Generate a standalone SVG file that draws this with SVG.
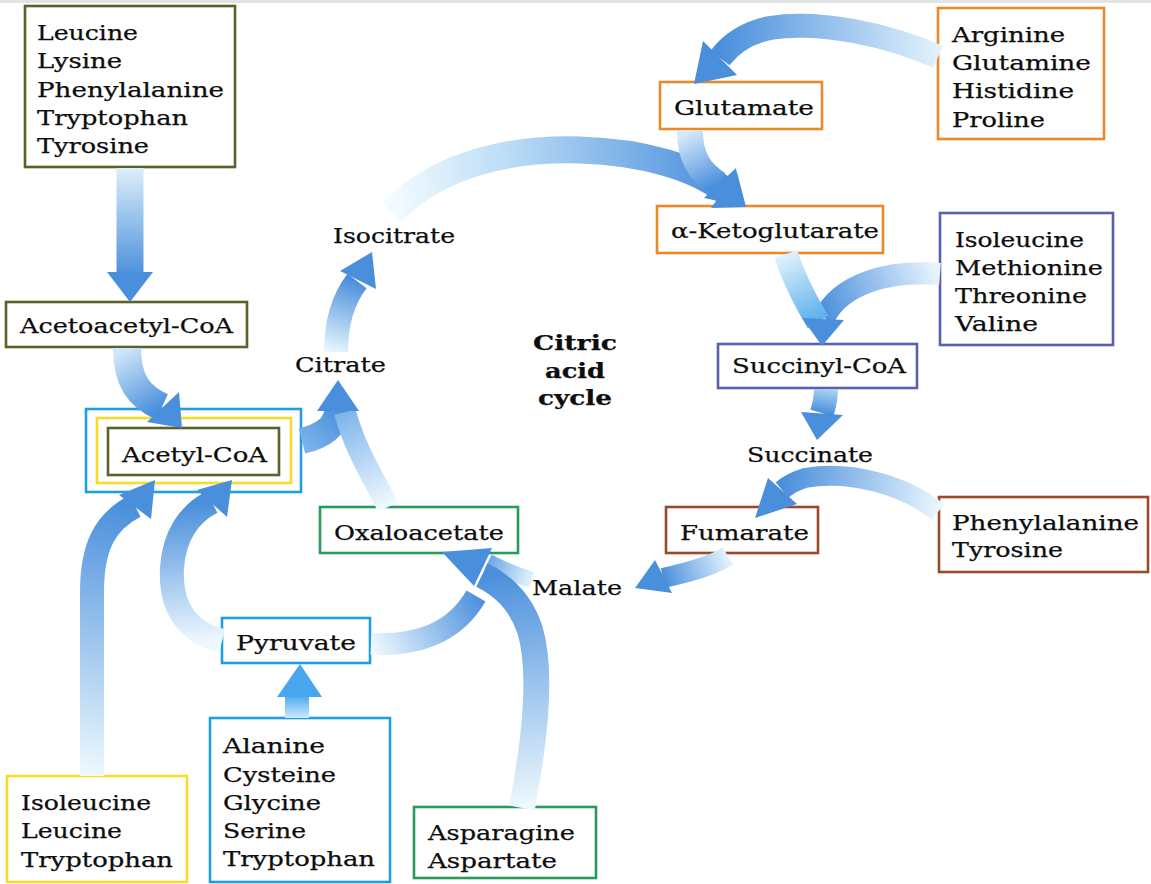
<svg xmlns="http://www.w3.org/2000/svg" width="1151" height="884" viewBox="0 0 1151 884">
<style>
.box{fill:#fff;stroke-width:2.6}
.olive{stroke:#5b6128}.orange{stroke:#e8892a}.purple{stroke:#5a5fae}.brown{stroke:#9a4a2a}.green{stroke:#2a9a5a}.blue{stroke:#1f9fe2}.yellow{stroke:#f5dc28}
text{font-family:"DejaVu Serif","Liberation Serif",serif;font-size:21px;fill:#0d0d0d;stroke:#0d0d0d;stroke-width:0.25}
.b{font-weight:bold;font-size:20px}
.s{fill:none;stroke-linecap:butt}
.h{fill:#4a8fdc}
.hc{fill:#47a6ee}
</style>
<defs>
<linearGradient id="g1" gradientUnits="userSpaceOnUse" x1="130" y1="168" x2="130" y2="276"><stop offset="0" stop-color="#dceffb"/><stop offset="1" stop-color="#4a8fdc"/></linearGradient>
<linearGradient id="g2" gradientUnits="userSpaceOnUse" x1="127" y1="348" x2="163" y2="407"><stop offset="0" stop-color="#cfe7fa"/><stop offset="1" stop-color="#4a8fdc"/></linearGradient>
<linearGradient id="g3" gradientUnits="userSpaceOnUse" x1="302" y1="441" x2="338" y2="408"><stop offset="0" stop-color="#7ab3ea"/><stop offset="1" stop-color="#4a8fdc"/></linearGradient>
<linearGradient id="g4" gradientUnits="userSpaceOnUse" x1="388" y1="507" x2="345" y2="412"><stop offset="0" stop-color="#f0faff"/><stop offset="1" stop-color="#7fb5ea"/></linearGradient>
<linearGradient id="g5" gradientUnits="userSpaceOnUse" x1="336" y1="352" x2="357" y2="281"><stop offset="0" stop-color="#e6f5fd"/><stop offset="1" stop-color="#4a8fdc"/></linearGradient>
<linearGradient id="g6" gradientUnits="userSpaceOnUse" x1="395" y1="205" x2="724" y2="190"><stop offset="0" stop-color="#f2fbff"/><stop offset="0.35" stop-color="#bcdcf6"/><stop offset="1" stop-color="#4a8fdc"/></linearGradient>
<linearGradient id="g7" gradientUnits="userSpaceOnUse" x1="690" y1="131" x2="718" y2="184"><stop offset="0" stop-color="#d6eafa"/><stop offset="1" stop-color="#4a8fdc"/></linearGradient>
<linearGradient id="g8" gradientUnits="userSpaceOnUse" x1="938" y1="57" x2="720" y2="58"><stop offset="0" stop-color="#e2f1fc"/><stop offset="1" stop-color="#4a8fdc"/></linearGradient>
<linearGradient id="g9" gradientUnits="userSpaceOnUse" x1="940" y1="274" x2="824" y2="318"><stop offset="0" stop-color="#eaf6fe"/><stop offset="1" stop-color="#4a8fdc"/></linearGradient>
<linearGradient id="g10" gradientUnits="userSpaceOnUse" x1="786" y1="254" x2="818" y2="322"><stop offset="0" stop-color="#e0f2fd"/><stop offset="1" stop-color="#58aeec"/></linearGradient>
<linearGradient id="g11" gradientUnits="userSpaceOnUse" x1="826" y1="389" x2="822" y2="413"><stop offset="0" stop-color="#a9d2f3"/><stop offset="1" stop-color="#4a8fdc"/></linearGradient>
<linearGradient id="g12" gradientUnits="userSpaceOnUse" x1="938" y1="512" x2="782" y2="490"><stop offset="0" stop-color="#eaf6fe"/><stop offset="1" stop-color="#4a8fdc"/></linearGradient>
<linearGradient id="g13" gradientUnits="userSpaceOnUse" x1="728" y1="556" x2="663" y2="578"><stop offset="0" stop-color="#e4f3fd"/><stop offset="1" stop-color="#4a8fdc"/></linearGradient>
<linearGradient id="g14" gradientUnits="userSpaceOnUse" x1="532" y1="580" x2="488" y2="562"><stop offset="0" stop-color="#e4f3fd"/><stop offset="1" stop-color="#6aa7e4"/></linearGradient>
<linearGradient id="g15" gradientUnits="userSpaceOnUse" x1="522" y1="808" x2="482" y2="575"><stop offset="0" stop-color="#eef9fe"/><stop offset="1" stop-color="#4a8fdc"/></linearGradient>
<linearGradient id="g16" gradientUnits="userSpaceOnUse" x1="371" y1="644" x2="478" y2="590"><stop offset="0" stop-color="#eef9fe"/><stop offset="1" stop-color="#4a8fdc"/></linearGradient>
<linearGradient id="g17" gradientUnits="userSpaceOnUse" x1="92" y1="776" x2="135" y2="506"><stop offset="0" stop-color="#eef9fe"/><stop offset="1" stop-color="#4a8fdc"/></linearGradient>
<linearGradient id="g18" gradientUnits="userSpaceOnUse" x1="222" y1="641" x2="212" y2="502"><stop offset="0" stop-color="#eef9fe"/><stop offset="1" stop-color="#4a8fdc"/></linearGradient>
<linearGradient id="g19" gradientUnits="userSpaceOnUse" x1="297" y1="718" x2="297" y2="696"><stop offset="0" stop-color="#cde9fb"/><stop offset="1" stop-color="#4aaaf0"/></linearGradient>
</defs>
<rect x="0" y="0" width="1151" height="884" fill="#fff"/>
<rect x="0" y="0" width="1151" height="3" fill="#e4e4e4"/>

<g id="node-leucine-group"><rect class="box olive" x="25" y="6" width="210" height="161"/>
<text x="37" y="40" textLength="101" lengthAdjust="spacingAndGlyphs">Leucine</text>
<text x="37" y="68" textLength="85" lengthAdjust="spacingAndGlyphs">Lysine</text>
<text x="37" y="97" textLength="187" lengthAdjust="spacingAndGlyphs">Phenylalanine</text>
<text x="37" y="125" textLength="151" lengthAdjust="spacingAndGlyphs">Tryptophan</text>
<text x="37" y="153" textLength="112" lengthAdjust="spacingAndGlyphs">Tyrosine</text></g>
<g id="node-acetoacetyl"><rect class="box olive" x="6" y="302" width="241" height="45"/>
<text x="20" y="333" textLength="213" lengthAdjust="spacingAndGlyphs">Acetoacetyl-CoA</text></g>
<g id="node-acetyl"><rect class="box blue" x="86" y="409" width="215" height="83"/><rect class="box yellow" x="97" y="418" width="194" height="65"/><rect class="box olive" x="108" y="428" width="171" height="47"/>
<text x="122" y="462" textLength="145" lengthAdjust="spacingAndGlyphs">Acetyl-CoA</text></g>
<g id="node-isocitrate"><text x="333" y="243" textLength="122" lengthAdjust="spacingAndGlyphs">Isocitrate</text></g>
<g id="node-citrate"><text x="295" y="372" textLength="91" lengthAdjust="spacingAndGlyphs">Citrate</text></g>
<g id="node-title"><text class="b" x="533" y="350" textLength="84" lengthAdjust="spacingAndGlyphs">Citric</text>
<text class="b" x="545" y="378" textLength="60" lengthAdjust="spacingAndGlyphs">acid</text>
<text class="b" x="538" y="405" textLength="74" lengthAdjust="spacingAndGlyphs">cycle</text></g>
<g id="node-arginine-group"><rect class="box orange" x="938" y="8" width="166" height="131"/>
<text x="952" y="42" textLength="113" lengthAdjust="spacingAndGlyphs">Arginine</text>
<text x="952" y="70" textLength="139" lengthAdjust="spacingAndGlyphs">Glutamine</text>
<text x="952" y="98" textLength="122" lengthAdjust="spacingAndGlyphs">Histidine</text>
<text x="952" y="127" textLength="93" lengthAdjust="spacingAndGlyphs">Proline</text></g>
<g id="node-glutamate"><rect class="box orange" x="660" y="82" width="162" height="47"/>
<text x="674" y="115" textLength="140" lengthAdjust="spacingAndGlyphs">Glutamate</text></g>
<g id="node-ketoglutarate"><rect class="box orange" x="657" y="206" width="226" height="47"/>
<text x="671" y="238" textLength="208" lengthAdjust="spacingAndGlyphs">α-Ketoglutarate</text></g>
<g id="node-isoleucine-group"><rect class="box purple" x="940" y="213" width="173" height="132"/>
<text x="955" y="247" textLength="129" lengthAdjust="spacingAndGlyphs">Isoleucine</text>
<text x="955" y="275" textLength="148" lengthAdjust="spacingAndGlyphs">Methionine</text>
<text x="955" y="303" textLength="132" lengthAdjust="spacingAndGlyphs">Threonine</text>
<text x="955" y="331" textLength="83" lengthAdjust="spacingAndGlyphs">Valine</text></g>
<g id="node-succinylcoa"><rect class="box purple" x="718" y="344" width="199" height="44"/>
<text x="732" y="373" textLength="174" lengthAdjust="spacingAndGlyphs">Succinyl-CoA</text></g>
<g id="node-succinate"><text x="747" y="462" textLength="126" lengthAdjust="spacingAndGlyphs">Succinate</text></g>
<g id="node-fumarate"><rect class="box brown" x="666" y="507" width="152" height="46"/>
<text x="680" y="540" textLength="129" lengthAdjust="spacingAndGlyphs">Fumarate</text></g>
<g id="node-phe-group"><rect class="box brown" x="939" y="497" width="209" height="75"/>
<text x="952" y="530" textLength="187" lengthAdjust="spacingAndGlyphs">Phenylalanine</text>
<text x="952" y="557" textLength="111" lengthAdjust="spacingAndGlyphs">Tyrosine</text></g>
<g id="node-malate"><text x="532" y="595" textLength="90" lengthAdjust="spacingAndGlyphs">Malate</text></g>
<g id="node-oxaloacetate"><rect class="box green" x="320" y="507" width="198" height="46"/>
<text x="334" y="540" textLength="170" lengthAdjust="spacingAndGlyphs">Oxaloacetate</text></g>
<g id="node-pyruvate"><rect class="box blue" x="222" y="618" width="148" height="45"/>
<text x="236" y="650" textLength="120" lengthAdjust="spacingAndGlyphs">Pyruvate</text></g>
<g id="node-alanine-group"><rect class="box blue" x="210" y="718" width="180" height="164"/>
<text x="223" y="753" textLength="102" lengthAdjust="spacingAndGlyphs">Alanine</text>
<text x="223" y="782" textLength="113" lengthAdjust="spacingAndGlyphs">Cysteine</text>
<text x="223" y="810" textLength="98" lengthAdjust="spacingAndGlyphs">Glycine</text>
<text x="223" y="838" textLength="83" lengthAdjust="spacingAndGlyphs">Serine</text>
<text x="223" y="866" textLength="152" lengthAdjust="spacingAndGlyphs">Tryptophan</text></g>
<g id="node-ile-leu-trp"><rect class="box yellow" x="7" y="776" width="180" height="106"/>
<text x="21" y="810" textLength="130" lengthAdjust="spacingAndGlyphs">Isoleucine</text>
<text x="21" y="838" textLength="101" lengthAdjust="spacingAndGlyphs">Leucine</text>
<text x="21" y="867" textLength="152" lengthAdjust="spacingAndGlyphs">Tryptophan</text></g>
<g id="node-asparagine-group"><rect class="box green" x="414" y="807" width="182" height="71"/>
<text x="428" y="840" textLength="147" lengthAdjust="spacingAndGlyphs">Asparagine</text>
<text x="428" y="868" textLength="129" lengthAdjust="spacingAndGlyphs">Aspartate</text></g>

<g id="connectors">
<path class="s" d="M130,168 L130,276" stroke="url(#g1)" stroke-width="27"/><polygon class="h" points="130,302 107,272 153,272"/>
<path class="s" d="M127,348 C127,380 138,396 162,407" stroke="url(#g2)" stroke-width="28"/><polygon class="h" points="182,428 147,422 179,392"/>
<path class="s" d="M302,441 C322,436 336,428 338,408" stroke="url(#g3)" stroke-width="26"/>
<path class="s" d="M388,507 C375,480 355,450 345,412" stroke="url(#g4)" stroke-width="22"/><polygon class="h" points="338,380 317,411 359,411"/>
<path class="s" d="M336,352 C336,320 344,298 357,281" stroke="url(#g5)" stroke-width="24"/><polygon class="h" points="372,252 376,289 340,271"/>
<path class="s" d="M392,212 C440,162 515,148 580,150 C645,152 695,168 724,190" stroke="url(#g6)" stroke-width="27"/><polygon class="h" points="746,207 711,208 737,172"/>
<path class="s" d="M690,131 C690,158 700,172 718,184" stroke="url(#g7)" stroke-width="26"/><polygon class="h" points="742,206 704,198 736,168"/>
<path class="s" d="M938,57 C890,35 820,20 770,28 C745,33 730,45 720,58" stroke="url(#g8)" stroke-width="24"/><polygon class="h" points="694,84 737,75 703,41"/>
<path class="s" d="M940,274 C885,270 840,285 824,318" stroke="url(#g9)" stroke-width="22"/>
<path class="s" d="M786,254 C794,280 806,302 818,322" stroke="url(#g10)" stroke-width="24"/><polygon class="h" points="822,346 802,318 844,320"/>
<path class="s" d="M826,389 C826,398 824,406 822,413" stroke="url(#g11)" stroke-width="24"/><polygon class="h" points="817,440 801,412 843,415"/>
<path class="s" d="M938,512 C905,485 850,470 805,478 C795,481 788,485 782,490" stroke="url(#g12)" stroke-width="20"/><polygon class="h" points="755,518 768,478 797,504"/>
<path class="s" d="M728,556 C712,566 690,572 663,578" stroke="url(#g13)" stroke-width="20"/><polygon class="h" points="635,588 655,560 672,593"/>
<path class="s" d="M532,580 C515,575 500,568 488,562" stroke="url(#g14)" stroke-width="16"/>
<path class="s" d="M522,808 C535,740 542,670 530,630 C520,600 502,585 482,575" stroke="url(#g15)" stroke-width="26"/>
<path class="s" d="M371,644 C420,646 455,632 476,596" stroke="url(#g16)" stroke-width="22"/><polygon class="h" points="442,552 474,586 492,548"/>
<path class="s" d="M92,776 L92,592 C92,548 104,522 135,506" stroke="url(#g17)" stroke-width="24"/><polygon class="h" points="155,480 151,519 119,495"/>
<path class="s" d="M222,641 C185,632 170,605 172,568 C174,535 190,513 212,502" stroke="url(#g18)" stroke-width="24"/><polygon class="h" points="232,480 227,517 197,490"/>
<path class="s" d="M297,718 L297,696" stroke="url(#g19)" stroke-width="24"/><polygon class="hc" points="300,664 277,697 322,697"/>
</g>
</svg>
